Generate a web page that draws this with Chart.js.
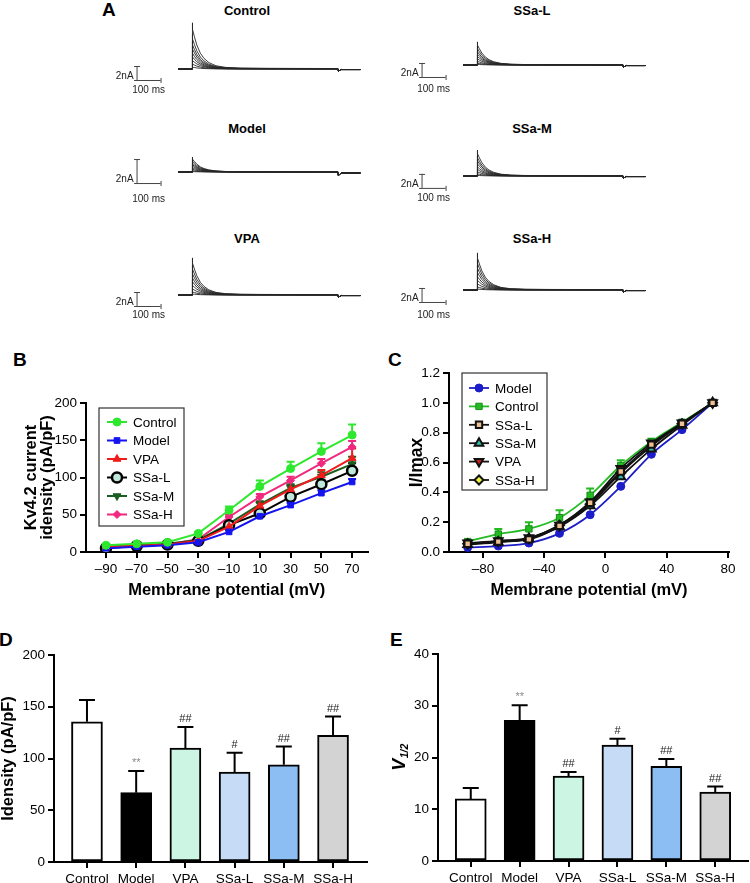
<!DOCTYPE html>
<html><head><meta charset="utf-8">
<script src="https://cdn.jsdelivr.net/npm/chart.js@4/dist/chart.umd.min.js"></script>
<style>
html,body{margin:0;padding:0;background:#fff;}
body{width:750px;height:883px;position:relative;overflow:hidden;font-family:"Liberation Sans",Arial,sans-serif;color:#000;}
canvas{position:absolute;}
.lbl{position:absolute;font-weight:bold;font-size:19px;line-height:1;}
.ttl{position:absolute;font-weight:bold;font-size:13px;line-height:1;transform:translateX(-50%);white-space:nowrap;}
</style></head><body>
<div class="lbl" style="left:102px;top:0px">A</div>
<div class="lbl" style="left:13px;top:350px">B</div>
<div class="lbl" style="left:388px;top:350px">C</div>
<div class="lbl" style="left:-1px;top:630px">D</div>
<div class="lbl" style="left:390px;top:630px">E</div>
<script>
// ================= DATA =================
// Panel A: current traces (peak amplitude of each step, nA) and shared decay profile
const traceTimes = [-58, 0, 0, 4, 10, 20, 35, 50, 70, 100, 140, 200, 300, 450, 608, 610, 622, 702];
const decayShape = [1, 0.86, 0.7, 0.52, 0.34, 0.23, 0.14, 0.07, 0.035, 0.02, 0.015, 0.012, 0.01];
const traceTail = [-0.3, -0.08, -0.08];
const peaksControl = [6.6, 5.0, 4.0, 3.3, 2.6, 2.0, 1.4, 0.8, 0.3];
const peaksSSaL = [3.3, 2.7, 2.2, 1.8, 1.4, 1.0, 0.6, 0.3, 0.1];
const peaksModel = [1.25, 1.05, 0.85, 0.7, 0.55, 0.4, 0.25, 0.12, 0.04];
const peaksSSaM = [3.7, 3.0, 2.5, 2.0, 1.5, 1.1, 0.7, 0.35, 0.1];
const peaksVPA = [5.3, 4.3, 3.5, 2.8, 2.2, 1.6, 1.0, 0.5, 0.15];
const peaksSSaH = [5.3, 4.4, 3.6, 2.9, 2.2, 1.6, 1.0, 0.5, 0.15];

// Panel B: Kv4.2 current density (pA/pF)
const voltagesB = [-90, -70, -50, -30, -10, 10, 30, 50, 70];
const bControl = [9, 11, 13, 25, 56, 88, 112, 135, 157];
const bModel = [5, 7, 9, 13, 27, 48, 63, 79, 94];
const bVPA = [7, 8.5, 10, 15, 34, 62, 84, 103, 126];
const bSSaL = [5, 8, 10, 15, 36, 52, 74, 91, 109];
const bSSaM = [7, 9, 11, 16, 38, 64, 86, 101, 118];
const bSSaH = [6, 8.5, 10, 17, 47, 74, 96, 119, 141];
const bErrControl = [1, 1, 1, 2, 5, 8, 9, 11, 14];
const bErrModel = [0.5, 0.5, 0.5, 1, 2, 3, 3, 4, 4];
const bErrVPA = [0.5, 0.5, 0.5, 1, 3, 5, 6, 7, 13];
const bErrSSaL = [0.5, 0.5, 0.5, 1, 3, 4, 5, 6, 10];
const bErrSSaM = [0.5, 0.5, 0.5, 1, 3, 4, 5, 6, 10];
const bErrSSaH = [0.5, 0.5, 0.5, 1, 3, 4, 5, 6, 8];
const bXTicks = [-90, -70, -50, -30, -10, 10, 30, 50, 70];

// Panel C: I/Imax activation
const voltagesC = [-90, -70, -50, -30, -10, 10, 30, 50, 70];
const cModel = [0.03, 0.04, 0.06, 0.125, 0.25, 0.44, 0.655, 0.82, 1.0];
const cControl = [0.07, 0.12, 0.155, 0.23, 0.38, 0.58, 0.74, 0.87, 1.0];
const cSSaL = [0.055, 0.07, 0.085, 0.175, 0.33, 0.54, 0.72, 0.86, 1.0];
const cSSaM = [0.05, 0.065, 0.09, 0.17, 0.31, 0.505, 0.69, 0.85, 1.0];
const cVPA = [0.06, 0.075, 0.095, 0.18, 0.335, 0.56, 0.73, 0.865, 1.0];
const cSSaH = [0.055, 0.07, 0.09, 0.18, 0.32, 0.53, 0.71, 0.86, 1.0];
const cErrControl = [0.01, 0.035, 0.045, 0.05, 0.045, 0.035, 0.02, 0.01, 0];
const cXTicks = [-80, -40, 0, 40, 80];

// Panels D and E
const groups = ['Control', 'Model', 'VPA', 'SSa-L', 'SSa-M', 'SSa-H'];
const dMeans = [135.5, 67, 110, 87, 94, 122.5];
const dErrs = [21, 21, 20.5, 18.5, 17.5, 18];
const dMarks = ['', '**', '##', '#', '##', '##'];
const eMeans = [12, 27.2, 16.4, 22.4, 18.3, 13.3];
const eErrs = [2.1, 2.9, 0.8, 1.2, 1.4, 1.1];
const eMarks = ['', '**', '##', '#', '##', '##'];
const barColors = ['#ffffff', '#000000', '#cdf5e4', '#c6dcf6', '#8cbdf3', '#d3d3d3'];

// ================= SETUP =================
const FONT = '"Liberation Sans", Arial, sans-serif';
Chart.defaults.font.family = FONT;
Chart.defaults.color = '#000';
Chart.defaults.animation = false;
Chart.defaults.responsive = false;
Chart.defaults.plugins.legend.display = false;
Chart.defaults.plugins.tooltip.enabled = false;

function makeCanvas(left, top, w, h) {
  const c = document.createElement('canvas');
  c.width = w; c.height = h;
  c.style.left = left + 'px'; c.style.top = top + 'px';
  c.style.width = w + 'px'; c.style.height = h + 'px';
  document.body.appendChild(c);
  return c;
}
function addTitle(text, cx, top) {
  const d = document.createElement('div');
  d.className = 'ttl'; d.textContent = text;
  d.style.left = cx + 'px'; d.style.top = top + 'px';
  document.body.appendChild(d);
}
const yVal = p => (typeof p === 'object' ? p.y : p);

// error bars (upward) drawn under markers
const errorBarPlugin = {
  id: 'errbars',
  beforeDatasetsDraw(chart) {
    const ctx = chart.ctx, ys = chart.scales.y;
    chart.data.datasets.forEach((ds, di) => {
      if (!ds.errUp) return;
      const meta = chart.getDatasetMeta(di);
      ctx.save();
      ctx.strokeStyle = ds.errColor || ds.borderColor;
      ctx.lineWidth = ds.errWidth || 2;
      meta.data.forEach((el, i) => {
        const e = ds.errUp[i]; if (!e) return;
        const v = yVal(ds.data[i]);
        const x = el.x, y0 = ys.getPixelForValue(v), y1 = ys.getPixelForValue(v + e);
        const c = ds.errCap || 4;
        ctx.beginPath();
        ctx.moveTo(x, y0); ctx.lineTo(x, y1);
        ctx.moveTo(x - c, y1); ctx.lineTo(x + c, y1);
        ctx.stroke();
      });
      ctx.restore();
    });
  }
};
// significance marks above error bars
const marksPlugin = {
  id: 'marks',
  afterDatasetsDraw(chart) {
    const ctx = chart.ctx, ys = chart.scales.y;
    chart.data.datasets.forEach((ds, di) => {
      if (!ds.marks) return;
      const meta = chart.getDatasetMeta(di);
      ctx.save();
      ctx.textAlign = 'center'; ctx.textBaseline = 'middle';
      ctx.font = '11px ' + FONT;
      meta.data.forEach((el, i) => {
        const m = ds.marks[i]; if (!m) return;
        const top = ys.getPixelForValue(yVal(ds.data[i]) + (ds.errUp ? ds.errUp[i] : 0));
        ctx.fillStyle = m.indexOf('*') >= 0 ? '#8a8a8a' : '#222';
        ctx.fillText(m, el.x, top - 8);
      });
      ctx.restore();
    });
  }
};
// boxed legend inside the plot
const boxLegendPlugin = {
  id: 'boxLegend',
  afterDraw(chart, args, o) {
    if (!o || !o.box) return;
    const ctx = chart.ctx;
    ctx.save();
    ctx.fillStyle = '#fff';
    ctx.fillRect(o.box.x, o.box.y, o.box.w, o.box.h);
    ctx.strokeStyle = '#333'; ctx.lineWidth = 1.2;
    ctx.strokeRect(o.box.x, o.box.y, o.box.w, o.box.h);
    chart.data.datasets.forEach((ds, i) => {
      const y = o.firstY + i * o.rowH;
      ctx.strokeStyle = ds.borderColor; ctx.lineWidth = ds.borderWidth;
      ctx.beginPath(); ctx.moveTo(o.x0, y); ctx.lineTo(o.x1, y); ctx.stroke();
      ctx.fillStyle = ds.pointBackgroundColor; ctx.strokeStyle = ds.pointBorderColor;
      ctx.lineWidth = ds.pointBorderWidth;
      Chart.helpers.drawPoint(ctx, {pointStyle: ds.pointStyle, radius: ds.pointRadius,
        rotation: ds.pointRotation || 0, borderWidth: ds.pointBorderWidth}, (o.x0 + o.x1) / 2, y);
      ctx.fillStyle = '#000'; ctx.font = '13.5px ' + FONT;
      ctx.textAlign = 'left'; ctx.textBaseline = 'middle';
      ctx.fillText(ds.label, o.textX, y + 1);
    });
    ctx.restore();
  }
};
// scale bars for current traces
const scaleBarPlugin = {
  id: 'scaleBar',
  afterDraw(chart, args, o) {
    if (!o || o.t === undefined) return;
    const ctx = chart.ctx, xs = chart.scales.x, ys = chart.scales.y;
    const x0 = xs.getPixelForValue(o.t), x1 = xs.getPixelForValue(o.t + o.ms);
    const yT = ys.getPixelForValue(o.top), yB = ys.getPixelForValue(o.top - o.nA);
    ctx.save();
    ctx.strokeStyle = '#444'; ctx.lineWidth = 1;
    ctx.beginPath();
    ctx.moveTo(x0 + 0.5, yT); ctx.lineTo(x0 + 0.5, yB);
    ctx.moveTo(x0 - 2.5, yT + 0.5); ctx.lineTo(x0 + 3.5, yT + 0.5);
    ctx.moveTo(x0 - 2.5, yB + 0.5); ctx.lineTo(x1, yB + 0.5);
    ctx.moveTo(x1 + 0.5, yB - 2); ctx.lineTo(x1 + 0.5, yB + 3);
    ctx.stroke();
    ctx.fillStyle = '#222'; ctx.font = '10px ' + FONT;
    ctx.textBaseline = 'middle'; ctx.textAlign = 'right';
    ctx.fillText('2nA', x0 - 3, yB - 4);
    ctx.textAlign = 'center';
    ctx.fillText('100 ms', (x0 + x1) / 2, yB + o.msGap);
    ctx.restore();
  }
};
// V1/2 axis title with subscript
const vTitlePlugin = {
  id: 'vTitle',
  afterDraw(chart, args, o) {
    if (!o || !o.text) return;
    const ctx = chart.ctx, ca = chart.chartArea;
    ctx.save();
    ctx.translate(o.x, (ca.top + ca.bottom) / 2);
    ctx.rotate(-Math.PI / 2);
    ctx.fillStyle = '#000'; ctx.textBaseline = 'middle'; ctx.textAlign = 'left';
    const f1 = 'italic bold 18px ' + FONT, f2 = 'italic bold 10.5px ' + FONT;
    ctx.font = f1; const w1 = ctx.measureText(o.text).width;
    ctx.font = f2; const w2 = ctx.measureText(o.sub).width;
    const s = -(w1 + w2) / 2;
    ctx.font = f1; ctx.fillText(o.text, s, 0);
    ctx.font = f2; ctx.fillText(o.sub, s + w1 + 0.5, 5);
    ctx.restore();
  }
};
Chart.register(errorBarPlugin, marksPlugin, boxLegendPlugin, scaleBarPlugin, vTitlePlugin);

const fmtNeg = v => (v < 0 ? '\u2013' + Math.abs(v) : '' + v);
function axisBase() {
  return {
    grid: {drawOnChartArea: false, color: '#000', lineWidth: 2, tickLength: 6, offset: false},
    border: {color: '#000', width: 2},
    ticks: {color: '#000', font: {size: 13.5}, padding: 3}
  };
}
const TITLE_SIZE = 16.5;

// ================= PANEL A =================
const PX_PER_MS = 0.24;
const A_W = 260, A_H = 100, A_BASE = 63;
const tracePanels = [
  {name: 'Control', peaks: peaksControl, left: 110, baseline: 69, ppn: 7, barTop: 0.43, title: [247, 4], msGap: 10},
  {name: 'SSa-L', peaks: peaksSSaL, left: 395, baseline: 65, ppn: 7, barTop: 0.29, title: [532, 4], msGap: 12},
  {name: 'Model', peaks: peaksModel, left: 110, baseline: 172, ppn: 12, barTop: 1.08, title: [247, 122], msGap: 16},
  {name: 'SSa-M', peaks: peaksSSaM, left: 395, baseline: 176, ppn: 7, barTop: 0.3, title: [532, 122], msGap: 10},
  {name: 'VPA', peaks: peaksVPA, left: 110, baseline: 295, ppn: 7, barTop: 0.43, title: [247, 232], msGap: 9},
  {name: 'SSa-H', peaks: peaksSSaH, left: 395, baseline: 290, ppn: 7, barTop: 0.29, title: [532, 232], msGap: 13}
];
tracePanels.forEach(p => {
  addTitle(p.name, p.title[0], p.title[1]);
  const cv = makeCanvas(p.left, p.baseline - A_BASE, A_W, A_H);
  const xmin = -(192 - 110) / PX_PER_MS;
  const datasets = p.peaks.map(pk => ({
    data: traceTimes.map((t, k) => {
      let y;
      if (k < 2) y = 0;
      else if (k < 2 + decayShape.length) y = pk * decayShape[k - 2];
      else y = traceTail[k - 2 - decayShape.length];
      return {x: t, y: y};
    }),
    borderColor: '#262626', borderWidth: 0.9, pointRadius: 0, tension: 0
  }));
  new Chart(cv, {
    type: 'line',
    data: {datasets: datasets},
    options: {
      devicePixelRatio: 1,
      layout: {padding: 0},
      scales: {
        x: {type: 'linear', display: false, min: xmin, max: xmin + A_W / PX_PER_MS},
        y: {type: 'linear', display: false, min: -(A_H - A_BASE) / p.ppn, max: A_BASE / p.ppn}
      },
      plugins: {scaleBar: {t: -231, ms: 100, top: p.barTop, nA: 2, msGap: p.msGap}}
    }
  });
});

// ================= PANEL B =================
const bSeries = [
  {label: 'Control', data: bControl, err: bErrControl, color: '#2ee82e', style: 'circle', r: 4, fill: '#2ee82e', pbw: 1, pbc: '#2ee82e'},
  {label: 'Model', data: bModel, err: bErrModel, color: '#1414f0', style: 'rect', r: 4, fill: '#1414f0', pbw: 1, pbc: '#1414f0'},
  {label: 'VPA', data: bVPA, err: bErrVPA, color: '#f01c1c', style: 'triangle', r: 4.5, fill: '#f01c1c', pbw: 1, pbc: '#f01c1c'},
  {label: 'SSa-L', data: bSSaL, err: bErrSSaL, color: '#000000', style: 'circle', r: 5, fill: '#bfe8dc', pbw: 2.5, pbc: '#000000'},
  {label: 'SSa-M', data: bSSaM, err: bErrSSaM, color: '#1b5e20', style: 'triangle', rot: 180, r: 4.5, fill: '#1b5e20', pbw: 1, pbc: '#1b5e20'},
  {label: 'SSa-H', data: bSSaH, err: bErrSSaH, color: '#f0287e', style: 'rectRot', r: 4, fill: '#f0287e', pbw: 1, pbc: '#f0287e'}
];
(function () {
  const cv = makeCanvas(0, 383, 375, 222);
  const ax = axisBase(), ay = axisBase();
  new Chart(cv, {
    type: 'line',
    data: {datasets: bSeries.map(s => ({
      label: s.label,
      data: voltagesB.map((v, i) => ({x: v, y: s.data[i]})),
      errUp: s.err, errCap: 4, errWidth: 2,
      borderColor: s.color, borderWidth: 2,
      pointStyle: s.style, pointRotation: s.rot || 0, pointRadius: s.r,
      pointBackgroundColor: s.fill, pointBorderColor: s.pbc, pointBorderWidth: s.pbw,
      tension: 0
    }))},
    options: {
      devicePixelRatio: 1,
      layout: {padding: {top: 20, right: 4, left: 0, bottom: 0}},
      scales: {
        x: Object.assign(ax, {
          type: 'linear', min: -103, max: 80,
          afterBuildTicks: s => { s.ticks = bXTicks.map(v => ({value: v})); },
          ticks: Object.assign(ax.ticks, {callback: v => fmtNeg(v)}),
          title: {display: true, text: 'Membrane potential (mV)', color: '#000',
                  font: {size: TITLE_SIZE, weight: 'bold', lineHeight: 1.2}, padding: {top: 0, bottom: 5}},
          afterFit: s => { s.height = 53; }
        }),
        y: Object.assign(ay, {
          type: 'linear', min: 0, max: 200,
          ticks: Object.assign(ay.ticks, {stepSize: 50}),
          title: {display: true, text: ['Kv4.2 current', 'idensity (pA/pF)'], color: '#000',
                  font: {size: TITLE_SIZE, weight: 'bold', lineHeight: 0.93}, padding: {top: 24, bottom: 0}},
          afterFit: s => { s.width = 86; }
        })
      },
      plugins: {boxLegend: {box: {x: 99, y: 25, w: 85, h: 118}, firstY: 39, rowH: 18.5, x0: 107, x1: 127, textX: 133}}
    }
  });
})();

// ================= PANEL C =================
const cSeries = [
  {label: 'Model', data: cModel, color: '#1c1cc8', style: 'circle', r: 4, fill: '#1c1cc8', pbw: 1, pbc: '#1c1cc8'},
  {label: 'Control', data: cControl, err: cErrControl, color: '#22bb22', style: 'rect', r: 4.5, fill: '#22bb22', pbw: 1, pbc: '#1a8a1a'},
  {label: 'SSa-L', data: cSSaL, color: '#111111', style: 'rect', r: 4.5, fill: '#f0c090', pbw: 2, pbc: '#111111'},
  {label: 'SSa-M', data: cSSaM, color: '#111111', style: 'triangle', r: 5, fill: '#30c0a8', pbw: 2, pbc: '#111111'},
  {label: 'VPA', data: cVPA, color: '#111111', style: 'triangle', rot: 180, r: 5, fill: '#c02020', pbw: 2, pbc: '#111111'},
  {label: 'SSa-H', data: cSSaH, color: '#111111', style: 'rectRot', r: 4.5, fill: '#f0f040', pbw: 2, pbc: '#111111'}
];
(function () {
  const cv = makeCanvas(375, 353, 375, 252);
  const ax = axisBase(), ay = axisBase();
  new Chart(cv, {
    type: 'line',
    data: {datasets: cSeries.map((s, i) => ({
      label: s.label,
      data: voltagesC.map((v, k) => ({x: v, y: s.data[k]})),
      errUp: s.err, errCap: 4, errWidth: 2,
      borderColor: s.color, borderWidth: 1.8,
      pointStyle: s.style, pointRotation: s.rot || 0, pointRadius: s.r,
      pointBackgroundColor: s.fill, pointBorderColor: s.pbc, pointBorderWidth: s.pbw,
      cubicInterpolationMode: 'monotone',
      order: i === 0 ? 5 : (i === 1 ? 4 : 0)
    }))},
    options: {
      devicePixelRatio: 1,
      layout: {padding: {top: 20, right: 21, left: 0, bottom: 0}},
      scales: {
        x: Object.assign(ax, {
          type: 'linear', min: -102.2, max: 80.7,
          afterBuildTicks: s => { s.ticks = cXTicks.map(v => ({value: v})); },
          ticks: Object.assign(ax.ticks, {callback: v => fmtNeg(v)}),
          title: {display: true, text: 'Membrane potential (mV)', color: '#000',
                  font: {size: TITLE_SIZE, weight: 'bold', lineHeight: 1.2}, padding: {top: 0, bottom: 5}},
          afterFit: s => { s.height = 53; }
        }),
        y: Object.assign(ay, {
          type: 'linear', min: 0, max: 1.2,
          ticks: Object.assign(ay.ticks, {stepSize: 0.2, callback: v => Number(v).toFixed(1)}),
          title: {display: true, text: 'I/Imax', color: '#000',
                  font: {size: 17.5, weight: 'bold', lineHeight: 1.2}, padding: {top: 32, bottom: 0}},
          afterFit: s => { s.width = 74; }
        })
      },
      plugins: {boxLegend: {box: {x: 87, y: 20, w: 85, h: 117}, firstY: 35, rowH: 18.4, x0: 94, x1: 114, textX: 120}}
    }
  });
})();

// ================= PANELS D & E =================
function barChart(left, top, padTop, padRight, yWidth, xHeight, xmin, xmax, ymax, step, means, errs, marks, yTitle, vTitle) {
  const cv = makeCanvas(left, top, 375, 253);
  const ax = axisBase(), ay = axisBase();
  new Chart(cv, {
    type: 'bar',
    data: {datasets: [{
      data: means.map((v, i) => ({x: i, y: v})),
      errUp: errs, errCap: 8, errWidth: 2, errColor: '#000', marks: marks,
      backgroundColor: barColors, borderColor: '#000', borderWidth: 2,
      barThickness: 31, borderSkipped: false
    }]},
    options: {
      devicePixelRatio: 1,
      layout: {padding: {top: padTop, right: padRight, left: 0, bottom: 0}},
      scales: {
        x: Object.assign(ax, {
          type: 'linear', min: xmin, max: xmax, offset: false,
          afterBuildTicks: s => { s.ticks = groups.map((g, i) => ({value: i})); },
          ticks: Object.assign(ax.ticks, {callback: v => groups[v] || ''}),
          afterFit: s => { s.height = xHeight; }
        }),
        y: Object.assign(ay, {
          type: 'linear', min: 0, max: ymax,
          ticks: Object.assign(ay.ticks, {stepSize: step}),
          title: yTitle ? {display: true, text: yTitle, color: '#000',
                  font: {size: TITLE_SIZE, weight: 'bold', lineHeight: 1.0}, padding: {top: 0, bottom: 0}} : {display: false},
          afterFit: s => { s.width = yWidth; }
        })
      },
      plugins: {vTitle: vTitle || {}}
    }
  });
}
barChart(0, 630, 25, 8, 54, 21, -0.67, 5.69, 200, 50, dMeans, dErrs, dMarks, 'Idensity (pA/pF)', null);
barChart(375, 630, 24, 2, 63, 22, -0.67, 5.67, 40, 10, eMeans, eErrs, eMarks, null, {text: 'V', sub: '1/2', x: 25});
</script>
</body></html>
